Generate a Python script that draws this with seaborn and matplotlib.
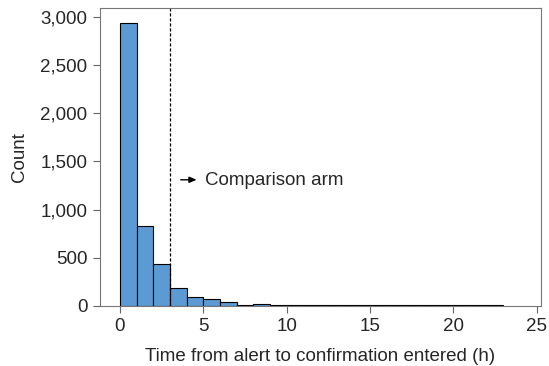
import matplotlib
matplotlib.use("Agg")
import matplotlib.pyplot as plt
import seaborn as sns
import numpy as np
import pandas as pd
from matplotlib.ticker import FuncFormatter

# Histogram bins (hours) and counts
bin_starts = list(range(0, 23))
counts = [2940, 830, 436, 190, 95, 75, 45, 14, 20, 15, 8, 12, 5, 12, 5, 5, 5, 5, 5, 5, 5, 5, 5]
threshold = 3
annotation = "Comparison arm"
x_label = "Time from alert to confirmation entered (h)"
y_label = "Count"
x_ticks = [0, 5, 10, 15, 20, 25]
y_ticks = [0, 500, 1000, 1500, 2000, 2500, 3000]

df = pd.DataFrame({"hours": [b + 0.5 for b in bin_starts], "n": counts})

sns.set_theme(style="white")
plt.rcParams["font.family"] = ["Liberation Sans", "DejaVu Sans"]

fig = plt.figure(figsize=(5.49, 3.66), dpi=100)
ax = fig.add_axes([0.182, 0.164, 0.803, 0.814])

sns.histplot(data=df, x="hours", weights="n", binwidth=1, binrange=(0, 23),
             color="#5b9ad2", edgecolor="black", linewidth=0.8, alpha=1, ax=ax)

ax.axvline(threshold, color="black", linestyle=(0, (2.5, 1.5)), linewidth=0.9)
ax.annotate("", xy=(4.6, 1310), xytext=(3.65, 1310),
            arrowprops=dict(arrowstyle="-|>,head_length=0.35,head_width=0.15",
                            color="black", lw=1.0, shrinkA=0, shrinkB=0))
ax.text(5.1, 1300, annotation, fontsize=13.5, va="center", ha="left")

ax.set_xlim(-1.2, 25.25)
ax.set_ylim(0, 3093)
ax.set_xticks(x_ticks)
ax.set_yticks(y_ticks)
ax.yaxis.set_major_formatter(FuncFormatter(lambda v, p: f"{int(v):,}"))
ax.set_xlabel(x_label, fontsize=13.5, labelpad=9)
ax.set_ylabel(y_label, fontsize=13.5, labelpad=9)
ax.tick_params(axis="both", labelsize=13.5, length=5, width=0.8, color="#666666",
               bottom=True, left=True, direction="out", pad=4)
for s in ax.spines.values():
    s.set_color("#777777")
    s.set_linewidth(0.8)

fig.savefig("out.png", dpi=100)
